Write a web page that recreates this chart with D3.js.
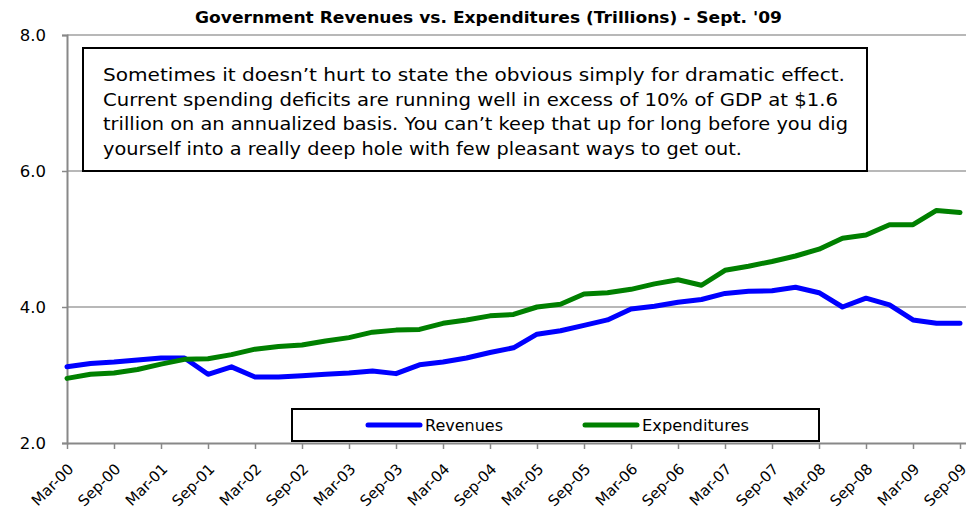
<!DOCTYPE html>
<html>
<head>
<meta charset="utf-8">
<script src="https://cdn.jsdelivr.net/npm/d3@7"></script>
<style>
  body { margin: 0; background: #fff; }
  svg { display: block; font-family: "DejaVu Sans", Verdana, sans-serif; }
</style>
</head>
<body>
<script>
// Government revenues vs expenditures, quarterly

const quarters = [
  "Mar-00","Jun-00","Sep-00","Dec-00","Mar-01","Jun-01","Sep-01","Dec-01",
  "Mar-02","Jun-02","Sep-02","Dec-02","Mar-03","Jun-03","Sep-03","Dec-03",
  "Mar-04","Jun-04","Sep-04","Dec-04","Mar-05","Jun-05","Sep-05","Dec-05",
  "Mar-06","Jun-06","Sep-06","Dec-06","Mar-07","Jun-07","Sep-07","Dec-07",
  "Mar-08","Jun-08","Sep-08","Dec-08","Mar-09","Jun-09","Sep-09"
];

const revenues = [
  3.12, 3.17, 3.19, 3.22, 3.25, 3.25, 3.01, 3.12, 2.97, 2.97,
  2.99, 3.01, 3.03, 3.06, 3.02, 3.15, 3.19, 3.25, 3.33, 3.40,
  3.60, 3.65, 3.73, 3.81, 3.97, 4.01, 4.07, 4.11, 4.20, 4.23,
  4.24, 4.29, 4.21, 4.00, 4.13, 4.03, 3.81, 3.76, 3.76
];

const expenditures = [
  2.95, 3.01, 3.03, 3.08, 3.16, 3.23, 3.24, 3.30, 3.38, 3.42,
  3.44, 3.50, 3.55, 3.63, 3.66, 3.67, 3.76, 3.81, 3.87, 3.89,
  4.00, 4.04, 4.19, 4.21, 4.26, 4.34, 4.40, 4.32, 4.54, 4.60,
  4.67, 4.75, 4.85, 5.01, 5.06, 5.21, 5.21, 5.42, 5.39
];

const yTicks = [2, 4, 6, 8];
const tickLabels = quarters.filter((q, i) => i % 2 === 0);

const title = "Government Revenues vs. Expenditures (Trillions) - Sept. '09";
const note = [
  "Sometimes it doesn\u2019t hurt to state the obvious simply for dramatic effect.",
  "Current spending deficits are running well in excess of 10% of GDP at $1.6",
  "trillion on an annualized basis. You can\u2019t keep that up for long before you dig",
  "yourself into a really deep hole with few pleasant ways to get out."
];
const noteWidths = [742, 735, 745, 639];

const width = 979, height = 529;
const plotLeft = 67, plotRight = 966, plotTop = 35, plotBottom = 443;

const svg = d3.select("body").append("svg")
    .attr("width", width)
    .attr("height", height);

const x = d3.scalePoint().domain(quarters).range([plotLeft, 960]);
const y = d3.scaleLinear().domain([2, 8]).range([plotBottom, plotTop]);

// title
svg.append("text")
    .attr("x", 195).attr("y", 23)
    .attr("font-weight", "bold")
    .attr("font-size", 15.5)
    .attr("fill", "#000")
    .attr("textLength", 587)
    .attr("lengthAdjust", "spacingAndGlyphs")
    .text(title);

// gridlines
svg.append("g").selectAll("line")
    .data(yTicks.filter(d => d > 2))
    .join("line")
    .attr("x1", plotLeft).attr("x2", plotRight)
    .attr("y1", d => y(d)).attr("y2", d => y(d))
    .attr("stroke", "#a0a0a0").attr("stroke-width", 1.5);

// y axis
const yAxis = svg.append("g")
    .attr("transform", `translate(${plotLeft},0)`)
    .call(d3.axisLeft(y).tickValues(yTicks).tickFormat(d3.format(".1f")).tickSize(5).tickPadding(16));
yAxis.select(".domain").attr("stroke", "#888").attr("stroke-width", 2);
yAxis.selectAll(".tick line").attr("stroke", "#888").attr("stroke-width", 1.5);
yAxis.selectAll("text").attr("font-size", 16.5).attr("fill", "#000")
    .attr("font-family", "'DejaVu Sans', Verdana, sans-serif");

// x axis
const xAxis = svg.append("g")
    .attr("transform", `translate(0,${plotBottom})`)
    .call(d3.axisBottom(x).tickValues(tickLabels).tickSize(6).tickSizeOuter(0));
xAxis.select(".domain").attr("d", `M${plotLeft},0.5H${plotRight}`)
    .attr("stroke", "#888").attr("stroke-width", 2);
xAxis.selectAll(".tick line").attr("stroke", "#888").attr("stroke-width", 1.5);
xAxis.selectAll("text")
    .attr("font-size", 15)
    .attr("fill", "#000")
    .attr("font-family", "'DejaVu Sans', Verdana, sans-serif")
    .attr("text-anchor", "end")
    .attr("dy", null)
    .attr("y", null)
    .attr("transform", "translate(7,27) rotate(-45)");

// lines
const line = d3.line()
    .x((d, i) => x(quarters[i]))
    .y(d => y(d));

svg.append("path")
    .datum(revenues)
    .attr("d", line)
    .attr("fill", "none")
    .attr("stroke", "#0000ff")
    .attr("stroke-width", 5)
    .attr("stroke-linejoin", "round")
    .attr("stroke-linecap", "round");

svg.append("path")
    .datum(expenditures)
    .attr("d", line)
    .attr("fill", "none")
    .attr("stroke", "#008000")
    .attr("stroke-width", 5)
    .attr("stroke-linejoin", "round")
    .attr("stroke-linecap", "round");

// annotation box
svg.append("rect")
    .attr("x", 83).attr("y", 48)
    .attr("width", 784).attr("height", 123)
    .attr("fill", "#fff")
    .attr("stroke", "#000").attr("stroke-width", 2);

svg.append("g").selectAll("text")
    .data(note)
    .join("text")
    .attr("x", 103)
    .attr("y", (d, i) => 81 + i * 24.5)
    .attr("font-size", 17)
    .attr("fill", "#000")
    .attr("textLength", (d, i) => noteWidths[i])
    .attr("lengthAdjust", "spacingAndGlyphs")
    .text(d => d);

// legend
const legend = svg.append("g");
legend.append("rect")
    .attr("x", 292).attr("y", 409)
    .attr("width", 527).attr("height", 32)
    .attr("fill", "#fff")
    .attr("stroke", "#000").attr("stroke-width", 2);

const legendItems = [
  {name: "Revenues", color: "#0000ff", x: 368, w: 78},
  {name: "Expenditures", color: "#008000", x: 585, w: 107}
];
legendItems.forEach(item => {
  legend.append("line")
      .attr("x1", item.x).attr("x2", item.x + 52)
      .attr("y1", 425).attr("y2", 425)
      .attr("stroke", item.color).attr("stroke-width", 5)
      .attr("stroke-linecap", "round");
  legend.append("text")
      .attr("x", item.x + 57).attr("y", 431)
      .attr("font-size", 16)
      .attr("fill", "#000")
      .attr("textLength", item.w)
      .attr("lengthAdjust", "spacingAndGlyphs")
      .text(item.name);
});
</script>
</body>
</html>
